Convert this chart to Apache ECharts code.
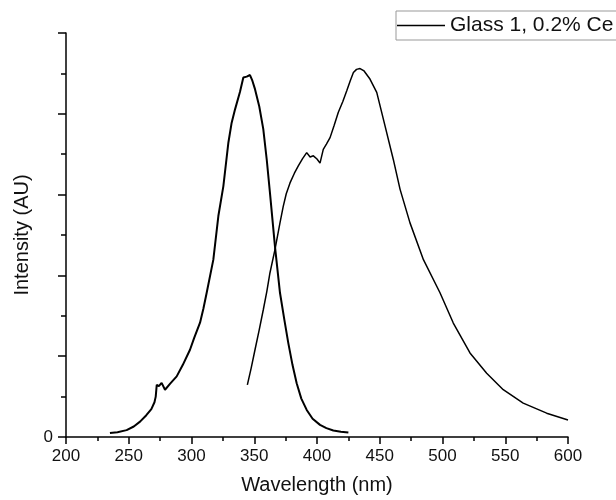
<!DOCTYPE html>
<html>
<head>
<meta charset="utf-8">
<script src="https://cdn.jsdelivr.net/npm/echarts@6/dist/echarts.min.js"></script>
<style>html,body{margin:0;padding:0;background:#fff}#c{width:616px;height:500px}</style>
</head>
<body>
<div id="c"></div>
<script>
// Excitation spectrum (wavelength nm, intensity AU)
const excWavelength = [235, 241, 248.3, 254, 259, 264, 268, 270.5, 271.5, 272.3, 274, 276.2, 278.9, 283, 288.2, 293, 298.8, 302, 306.8, 309.5, 312.1, 317.4, 321.4, 325.4, 329.4, 332, 334.7, 338.6, 341.3, 344, 346.6, 348.5, 350.6, 354, 357.2, 360, 362.5, 366.5, 370.5, 374, 377.1, 380.5, 383.8, 387.5, 391.8, 396.5, 402.4, 407.5, 413, 419, 425];
const excIntensity  = [1.0, 1.2, 1.7, 2.6, 3.8, 5.4, 6.9, 8.6, 10.0, 12.9, 12.6, 13.4, 11.7, 13.2, 15.0, 17.8, 21.6, 24.4, 28.3, 31.8, 35.7, 43.9, 54.7, 62.1, 72.9, 77.8, 81.1, 85.4, 89.0, 89.2, 89.6, 88.2, 86.1, 81.8, 76.2, 68.5, 60.5, 47.2, 35.7, 29.0, 23.3, 17.8, 13.3, 9.5, 6.7, 4.5, 3.0, 2.2, 1.6, 1.3, 1.1];

// Emission spectrum
const emWavelength = [344.5, 347.5, 350.6, 354, 357.2, 360, 362.5, 366.5, 370.5, 373.1, 375.5, 378.5, 382, 385.1, 388.5, 391.8, 394.5, 397.1, 400, 402.4, 405, 407.5, 410.4, 413.5, 417, 420.5, 423.7, 426.5, 429, 431.5, 434.3, 437.5, 442.2, 447.6, 454.2, 460.8, 466.2, 474.1, 484.8, 498, 508.6, 521.9, 535.2, 548.4, 564.3, 583, 600];
const emIntensity  = [12.9, 17.0, 21.6, 26.6, 31.5, 36.0, 40.6, 46.4, 53.0, 57.1, 60.2, 62.9, 65.3, 67.1, 68.9, 70.4, 69.3, 69.6, 68.8, 67.8, 71.2, 72.5, 74.1, 77.0, 80.4, 83.0, 85.7, 88.2, 90.2, 91.0, 91.2, 90.6, 88.6, 85.3, 77.0, 68.7, 61.3, 53.0, 43.9, 35.7, 28.2, 20.8, 15.8, 11.7, 8.4, 5.9, 4.2];

const seriesNames = ['Glass 1, 0.2% Ce', 'Excitation'];
const xTicks = [200, 250, 300, 350, 400, 450, 500, 550, 600];

const font = 'Liberation Sans, Arial, sans-serif';
const zip = (a, b) => a.map((v, i) => [v, b[i]]);

const chart = echarts.init(document.getElementById('c'), null, {renderer: 'canvas'});
chart.setOption({
  animation: false,
  backgroundColor: '#fff',
  grid: {left: 66, right: 48, top: 33, bottom: 63, containLabel: false},
  legend: {
    data: [seriesNames[0]],
    left: 396, top: 11,
    padding: [4, 6, 4, 1],
    icon: 'rect',
    itemWidth: 48, itemHeight: 1.5,
    itemStyle: {color: '#000', borderWidth: 0},
    borderColor: '#999', borderWidth: 1,
    textStyle: {fontFamily: font, fontSize: 21, color: '#111'}
  },
  xAxis: {
    type: 'value', min: xTicks[0], max: xTicks[xTicks.length - 1], interval: 50,
    name: 'Wavelength (nm)', nameLocation: 'middle', nameGap: 38,
    nameTextStyle: {fontFamily: font, fontSize: 20, color: '#111'},
    axisLine: {show: true, onZero: false, lineStyle: {color: '#000', width: 1.5}},
    axisTick: {show: true, inside: false, length: 7, lineStyle: {color: '#000', width: 1.5}},
    minorTick: {show: true, splitNumber: 2, length: 4, lineStyle: {color: '#000', width: 1.5}},
    axisLabel: {fontFamily: font, fontSize: 17, color: '#111', margin: 11},
    splitLine: {show: false}
  },
  yAxis: {
    type: 'value', min: 0, max: 100, interval: 20,
    name: 'Intensity (AU)', nameLocation: 'middle', nameGap: 32, nameRotate: 90,
    nameTextStyle: {fontFamily: font, fontSize: 20, color: '#111'},
    axisLine: {show: true, lineStyle: {color: '#000', width: 1.5}},
    axisTick: {show: true, inside: false, length: 8, lineStyle: {color: '#000', width: 1.5}},
    minorTick: {show: true, splitNumber: 2, length: 5, lineStyle: {color: '#000', width: 1.5}},
    axisLabel: {fontFamily: font, fontSize: 17, color: '#111', margin: 13,
      formatter: v => (v === 0 ? '0' : '')},
    splitLine: {show: false}
  },
  series: [
    {
      name: seriesNames[0], type: 'line', data: zip(emWavelength, emIntensity),
      showSymbol: false, symbol: 'none', smooth: false,
      lineStyle: {color: '#000', width: 1.5}, itemStyle: {color: '#000'}
    },
    {
      name: seriesNames[1], type: 'line', data: zip(excWavelength, excIntensity),
      showSymbol: false, symbol: 'none', smooth: false,
      lineStyle: {color: '#000', width: 2}, itemStyle: {color: '#000'}
    }
  ]
});
</script>
</body>
</html>
